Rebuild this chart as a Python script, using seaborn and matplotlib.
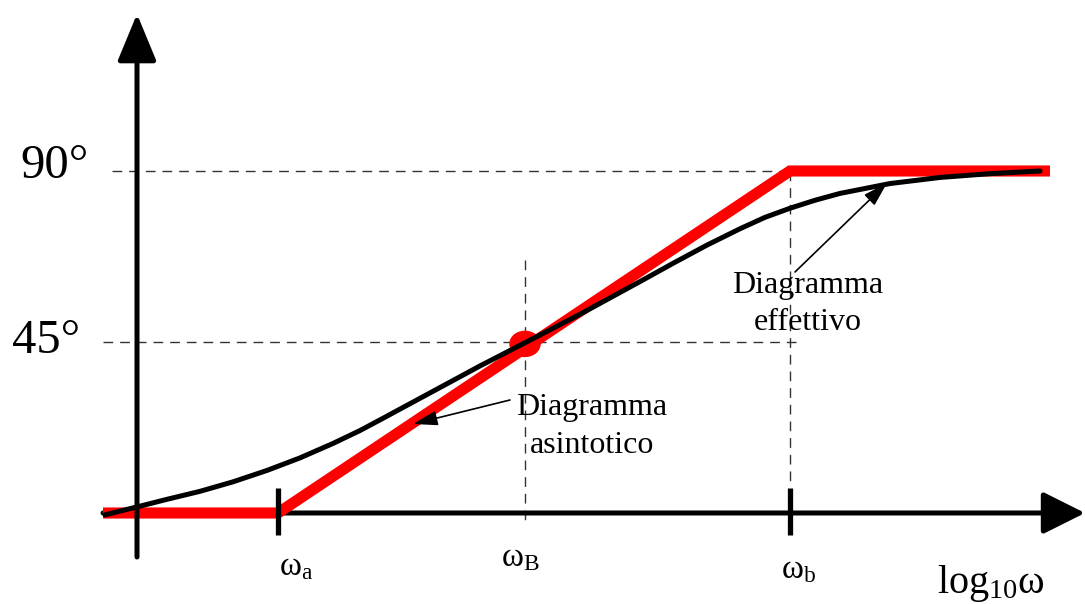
import matplotlib
matplotlib.use("Agg")
import matplotlib.pyplot as plt
from matplotlib.patches import Ellipse
import seaborn as sns

# x in arbitrary log10(omega) units, y in degrees
omega_a = 2.78
omega_B = 5.25
omega_b = 7.90

asym_x = [1.03, omega_a, omega_b, 10.50]
asym_y = [0, 0, 90, 90]

real_x = [1.05, 1.40, 1.67, 2.00, 2.33, 2.67, 3.00, 3.33, 3.60, 3.80, 4.30, 4.80, 5.25,
          5.80, 6.40, 6.73, 7.07, 7.40, 7.65, 7.90, 8.15, 8.40, 8.90, 9.40, 9.90, 10.40]
real_y = [-0.5, 1.8, 3.6, 5.7, 8.2, 11.2, 14.5, 18.3, 21.7, 24.5, 31.6, 38.7, 44.8,
          52.3, 60.9, 65.7, 70.5, 74.8, 77.8, 80.2, 82.3, 84.1, 86.7, 88.3, 89.3, 90.0]

phase_labels = ["90°", "45°"]
freq_labels = [r"$\mathrm{\omega_a}$", r"$\mathrm{\omega_B}$", r"$\mathrm{\omega_b}$"]

sns.set_style("white")
plt.rcParams["font.family"] = ["Liberation Serif", "DejaVu Serif"]
plt.rcParams["text.color"] = "black"
plt.rcParams["mathtext.fontset"] = "custom"
plt.rcParams["mathtext.rm"] = "Liberation Serif"
plt.rcParams["mathtext.it"] = "Liberation Serif:italic"


def px(x, y):
    # pixel position of the picture -> data coordinates (layout only)
    return x / 100.0, (513 - y) / 3.8


fig = plt.figure(figsize=(10.85, 6.04), dpi=100)
ax = fig.add_axes([0, 0, 1, 1])
ax.set_xlim(0, 10.85)
ax.set_ylim(-23.95, 135)
ax.axis("off")

dash = dict(color="#333333", lw=1.0, linestyle=(0, (7, 5)), zorder=1)
ax.plot([px(112, 0)[0], omega_b], [90, 90], **dash)
ax.plot([px(103, 0)[0], px(797, 0)[0]], [45, 45], **dash)
ax.plot([omega_b, omega_b], [90, px(0, 483)[1]], **dash)
ax.plot([omega_B, omega_B], [px(0, 260)[1], px(0, 525)[1]], **dash)

# axes with arrow heads
ax.annotate("", xy=px(1085, 513), xytext=px(103, 513),
            arrowprops=dict(arrowstyle="-|>,head_length=2.6,head_width=1.3",
                            mutation_scale=10, lw=3.6, color="black",
                            shrinkA=0, shrinkB=0), zorder=2)
ax.annotate("", xy=px(137, 14), xytext=px(137, 557),
            arrowprops=dict(arrowstyle="-|>,head_length=2.9,head_width=1.2",
                            mutation_scale=10, lw=3.6, color="black",
                            shrinkA=0, shrinkB=0), zorder=6)

sns.lineplot(x=asym_x, y=asym_y, sort=False, color="#ff0000", lw=8,
             solid_joinstyle="miter", solid_capstyle="butt", ax=ax, zorder=3)
ax.add_patch(Ellipse((omega_B, 44.5), 0.30, 6.6, color="#ff0000", zorder=4))
sns.lineplot(x=real_x, y=real_y, sort=False, color="black", lw=3.6,
             solid_joinstyle="round", ax=ax, zorder=5)

for w in [omega_a, omega_b]:
    ax.plot([w, w], [px(0, 488)[1], px(0, 535)[1]], color="black", lw=3.8,
            solid_capstyle="butt", zorder=6)

# phase labels
ax.text(*px(20, 178), phase_labels[0], fontsize=35, va="baseline", ha="left")
ax.text(*px(12, 353), phase_labels[1], fontsize=35, va="baseline", ha="left")

# frequency labels
ax.text(*px(279, 575), freq_labels[0], fontsize=24, va="baseline", ha="left")
ax.text(*px(501, 566), freq_labels[1], fontsize=24, va="baseline", ha="left")
ax.text(*px(781, 578), freq_labels[2], fontsize=24, va="baseline", ha="left")
ax.text(*px(937, 593), r"$\mathrm{log_{10}\omega}$", fontsize=29,
        va="baseline", ha="left")

# annotations
arr = dict(arrowstyle="-|>,head_length=1.5,head_width=0.45", mutation_scale=10,
           lw=1.2, color="black", shrinkA=0, shrinkB=0)
ax.annotate("", xy=px(413, 424), xytext=px(510, 400), arrowprops=arr, zorder=7)
ax.text(*px(592, 415), "Diagramma", fontsize=23, ha="center", va="baseline")
ax.text(*px(592, 453), "asintotico", fontsize=23, ha="center", va="baseline")

ax.annotate("", xy=px(887, 183), xytext=px(795, 272), arrowprops=arr, zorder=7)
ax.text(*px(808, 293), "Diagramma", fontsize=23, ha="center", va="baseline")
ax.text(*px(808, 330), "effettivo", fontsize=23, ha="center", va="baseline")

fig.savefig("out.png", dpi=100)
